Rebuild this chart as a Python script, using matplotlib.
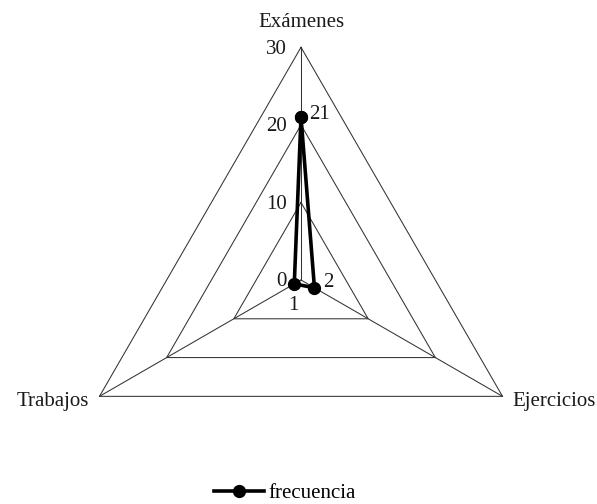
import numpy as np
import matplotlib
matplotlib.use("Agg")
import matplotlib.pyplot as plt

categories = ["Exámenes", "Ejercicios", "Trabajos"]
values = [21, 2, 1]
ticks = [0, 10, 20, 30]
series_name = "frecuencia"

plt.rcParams['font.family'] = ['Liberation Serif', 'DejaVu Serif']
FS = 15

angles = np.deg2rad([90, -30, 210])
rmax = 30

def to_xy(r, a):
    return r * np.cos(a), r * np.sin(a)

W, H = 597, 504
cx, cy = 301, 280
s = 232.7 / rmax

fig = plt.figure(figsize=(W / 100, H / 100), dpi=100)
ax = fig.add_axes([0, 0, 1, 1])
ax.set_xlim(-cx / s, (W - cx) / s)
ax.set_ylim(-(H - cy) / s, cy / s)
ax.set_aspect('equal')
ax.axis('off')

gc = '#333333'
# grid triangles
for t in ticks[1:]:
    xs, ys = to_xy(np.full(4, t), np.append(angles, angles[0]))
    ax.plot(xs, ys, color=gc, lw=0.75, zorder=1)
# spokes
for a in angles:
    x, y = to_xy(rmax, a)
    ax.plot([0, x], [0, y], color=gc, lw=0.75, zorder=1)

# tick labels on first axis
for t in ticks:
    x, y = to_xy(t, angles[0])
    ax.annotate(str(t), (x, y), xytext=(-14, -2), textcoords='offset pixels',
                ha='right', va='center', fontsize=FS, color='#1a1a1a')

# category labels
offs = [((0, 15), 'center', 'bottom'), ((10, -5), 'left', 'center'), ((-10, -5), 'right', 'center')]
for cat, a, (o, ha, va) in zip(categories, angles, offs):
    x, y = to_xy(rmax, a)
    ax.annotate(cat, (x, y), xytext=o, textcoords='offset pixels',
                ha=ha, va=va, fontsize=FS, color='#1a1a1a')

# data
vals = np.array(values, dtype=float)
xs, ys = to_xy(np.append(vals, vals[0]), np.append(angles, angles[0]))
ax.plot(xs, ys, color='black', lw=2.6, marker='o', markersize=8.5,
        label=series_name, zorder=3, solid_joinstyle='miter')

# data labels
doffs = [((8, 3), 'left', 'center'), ((9, 5), 'left', 'center'), ((-1, -12), 'center', 'top')]
for v, a, (o, ha, va) in zip(values, angles, doffs):
    x, y = to_xy(v, a)
    ax.annotate(str(v), (x, y), xytext=o, textcoords='offset pixels',
                ha=ha, va=va, fontsize=FS, color='#1a1a1a', zorder=4)

fig.legend(loc='center', bbox_to_anchor=(0.4766, 0.021), frameon=False,
           fontsize=FS, handlelength=2.4, handletextpad=0.2, borderaxespad=0)

fig.savefig("out.png", dpi=100)
